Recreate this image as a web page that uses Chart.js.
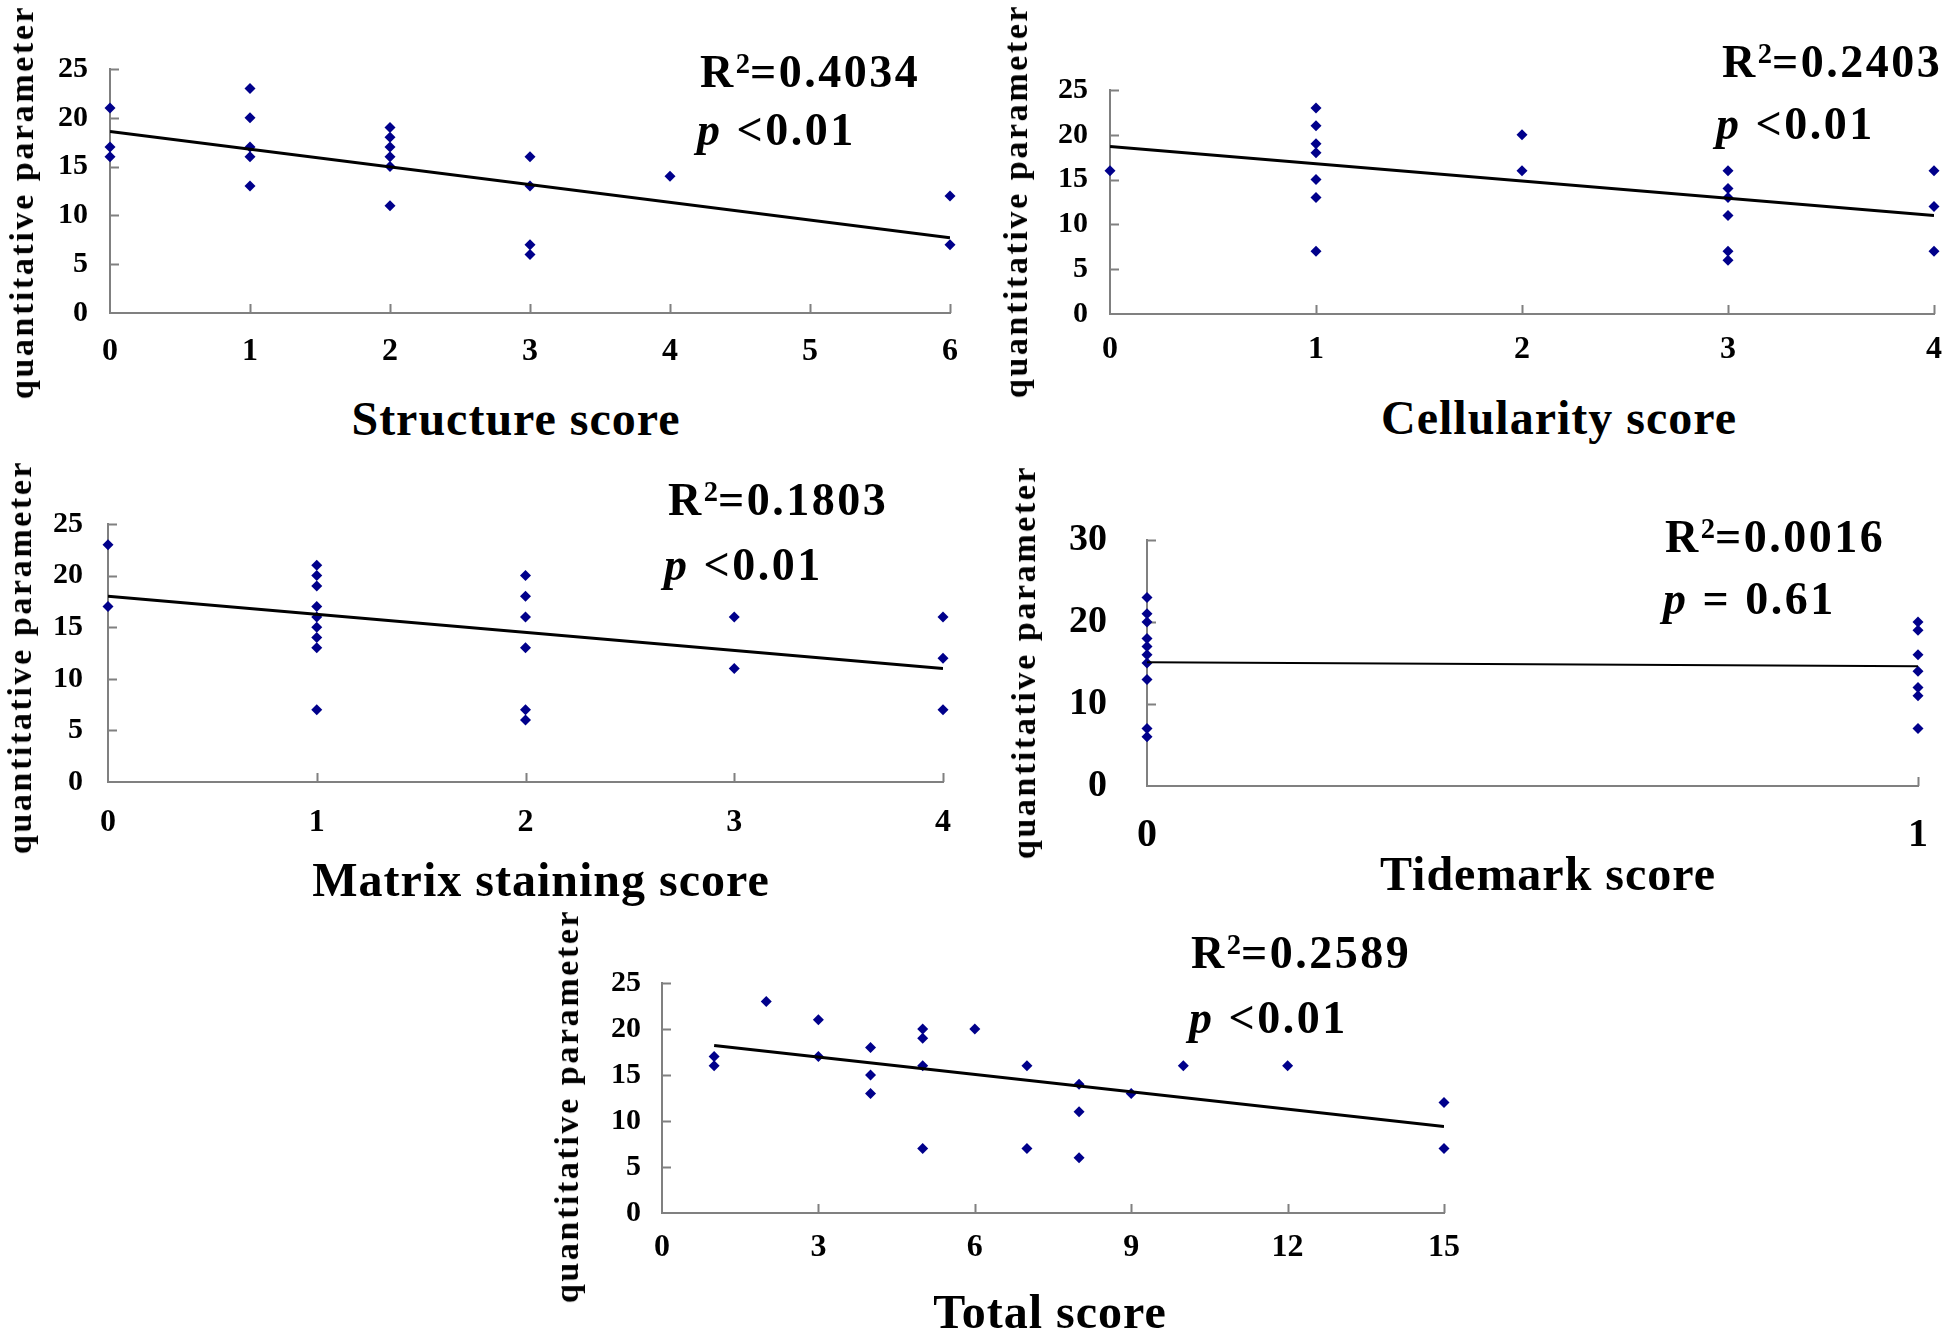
<!DOCTYPE html>
<html>
<head>
<meta charset="utf-8">
<script src="https://cdn.jsdelivr.net/npm/chart.js@4/dist/chart.umd.min.js"></script>
<style>
  body { margin: 0; width: 1946px; height: 1333px; overflow: hidden; background: #fff; position: relative; }
  canvas { position: absolute; }
  .txt { position: absolute; font-family: 'Liberation Serif', 'Times New Roman', serif; font-weight: bold; color: #000; white-space: nowrap; line-height: 1; }
  .stat { font-size: 46px; letter-spacing: 2.5px; }
  .stat sup { font-size: 0.62em; vertical-align: 0.48em; line-height: 0; letter-spacing: 0; }
  .xt { font-size: 48px; letter-spacing: 1px; transform: translateX(-50%); }
  .yt { font-size: 34px; letter-spacing: 2.6px; transform: translate(-50%, -50%) rotate(-90deg); }
</style>
</head>
<body>
<script>
// Structure score
const structureX = [0, 0, 0, 1, 1, 1, 1, 1, 2, 2, 2, 2, 2, 2, 3, 3, 3, 3, 4, 6, 6];
const structureY = [21, 17, 16, 23, 20, 17, 16, 13, 19, 18, 17, 16, 15, 11, 16, 13, 7, 6, 14, 12, 7];
const structureFitX = [0, 6];
const structureFitY = [18.6, 7.7];

// Cellularity score
const cellularityX = [0, 1, 1, 1, 1, 1, 1, 1, 2, 2, 3, 3, 3, 3, 3, 3, 4, 4, 4];
const cellularityY = [16, 23, 21, 19, 18, 15, 13, 7, 20, 16, 16, 14, 13, 11, 7, 6, 16, 12, 7];
const cellularityFitX = [0, 4];
const cellularityFitY = [18.7, 11.0];

// Matrix staining score
const matrixX = [0, 0, 1, 1, 1, 1, 1, 1, 1, 1, 1, 2, 2, 2, 2, 2, 2, 3, 3, 4, 4, 4];
const matrixY = [23, 17, 21, 20, 19, 17, 16, 15, 14, 13, 7, 20, 18, 16, 13, 7, 6, 16, 11, 16, 12, 7];
const matrixFitX = [0, 4];
const matrixFitY = [18.0, 11.0];

// Tidemark score
const tidemarkX = [0, 0, 0, 0, 0, 0, 0, 0, 0, 0, 1, 1, 1, 1, 1, 1, 1];
const tidemarkY = [23, 21, 20, 18, 17, 16, 15, 13, 7, 6, 20, 19, 16, 14, 12, 11, 7];
const tidemarkFitX = [0, 1];
const tidemarkFitY = [15.1, 14.6];

// Total score
const totalX = [1, 1, 2, 3, 3, 4, 4, 4, 5, 5, 5, 5, 6, 7, 7, 8, 8, 8, 9, 10, 12, 15, 15];
const totalY = [17, 16, 23, 21, 17, 18, 15, 13, 20, 19, 16, 7, 20, 16, 7, 14, 11, 6, 13, 16, 16, 12, 7];
const totalFitX = [1, 15];
const totalFitY = [18.2, 9.4];

const yTitle = 'quantitative  parameter';
const FONT = "'Liberation Serif', 'Times New Roman', serif";
const AXIS_GREY = '#808080';
const MARKER = '#00008B';

// petits traits de graduation tournés vers l'intérieur
const innerTicks = {
    id: 'innerTicks',
    beforeDatasetsDraw(chart) {
        const { ctx, chartArea, scales: { x, y } } = chart;
        ctx.save();
        ctx.strokeStyle = AXIS_GREY;
        ctx.lineWidth = 2;
        ctx.beginPath();
        y.ticks.forEach(t => {
            if (t.value === y.min) return;
            const py = Math.round(y.getPixelForValue(t.value)) + 0.5;
            ctx.moveTo(chartArea.left, py);
            ctx.lineTo(chartArea.left + 9, py);
        });
        x.ticks.forEach(t => {
            if (t.value === x.min) return;
            const px = Math.round(x.getPixelForValue(t.value)) + 0.5;
            ctx.moveTo(px, chartArea.bottom);
            ctx.lineTo(px, chartArea.bottom - 9);
        });
        ctx.stroke();
        ctx.restore();
    }
};

function toPoints(xs, ys) {
    return xs.map((v, i) => ({ x: v, y: ys[i] }));
}

function addText(html, cls, left, top) {
    const d = document.createElement('div');
    d.className = 'txt ' + cls;
    d.style.left = left + 'px';
    d.style.top = top + 'px';
    d.innerHTML = html;
    document.body.appendChild(d);
}

function makePanel(p) {
    // marges larges : le padding des graduations s'ajoute au haut de l'axe y
    const YW = 110, PT = 80, PR = 50, XH = 75;
    const canvas = document.createElement('canvas');
    const w = p.r - p.l + YW + PR;
    const h = p.b - p.t + PT + XH;
    canvas.width = w;
    canvas.height = h;
    canvas.style.left = (p.l - YW) + 'px';
    canvas.style.top = (p.t - PT) + 'px';
    document.body.appendChild(canvas);

    new Chart(canvas.getContext('2d'), {
        type: 'scatter',
        data: {
            datasets: [
                {
                    type: 'line',
                    data: toPoints(p.fitX, p.fitY),
                    borderColor: '#000',
                    borderWidth: p.fitWidth || 3,
                    pointRadius: 0,
                    fill: false
                },
                {
                    data: toPoints(p.xs, p.ys),
                    pointStyle: 'rectRot',
                    pointRadius: 5.5,
                    backgroundColor: MARKER,
                    borderColor: MARKER,
                    borderWidth: 0,
                    clip: false
                }
            ]
        },
        options: {
            responsive: false,
            animation: false,
            devicePixelRatio: 1,
            layout: { padding: { top: PT, right: PR, left: 0, bottom: 0 } },
            plugins: { legend: { display: false }, tooltip: { enabled: false } },
            scales: {
                x: {
                    type: 'linear',
                    min: 0,
                    max: p.xMax,
                    afterFit: s => { s.height = XH; },
                    border: { color: AXIS_GREY, width: 2 },
                    grid: { drawOnChartArea: false, drawTicks: false },
                    ticks: {
                        stepSize: p.xStep,
                        autoSkip: false,
                        maxRotation: 0,
                        padding: p.xPad,
                        color: '#000',
                        font: { family: FONT, weight: 'bold', size: p.tickSize + 2 }
                    }
                },
                y: {
                    min: 0,
                    max: p.yMax,
                    afterFit: s => { s.width = YW; },
                    border: { color: AXIS_GREY, width: 2 },
                    grid: { drawOnChartArea: false, drawTicks: false },
                    ticks: {
                        stepSize: p.yStep,
                        padding: p.yPad,
                        color: '#000',
                        font: { family: FONT, weight: 'bold', size: p.tickSize }
                    }
                }
            }
        },
        plugins: [innerTicks]
    });

    addText('R<sup>2</sup>=' + p.r2, 'stat', p.statX, p.statY);
    addText('<i>p</i> ' + p.pText, 'stat', p.pX, p.statY + p.statGap);
    addText(p.xTitle, 'xt', p.xTitleX, p.xTitleY - 24);
    addText(yTitle, 'yt', p.yTitleX, p.yTitleY);
}

makePanel({
    xs: structureX, ys: structureY, fitX: structureFitX, fitY: structureFitY,
    l: 110, t: 69, r: 950, b: 313, xMax: 6, xStep: 1, yMax: 25, yStep: 5,
    tickSize: 30, xPad: 20, yPad: 22,
    r2: '0.4034', pText: '&lt;0.01', statX: 700, statY: 49, pX: 697, statGap: 58,
    xTitle: 'Structure score', xTitleX: 516, xTitleY: 419, yTitleX: 22, yTitleY: 202
});

makePanel({
    xs: cellularityX, ys: cellularityY, fitX: cellularityFitX, fitY: cellularityFitY,
    l: 1110, t: 90, r: 1934, b: 314, xMax: 4, xStep: 1, yMax: 25, yStep: 5,
    tickSize: 30, xPad: 17, yPad: 22,
    r2: '0.2403', pText: '&lt;0.01', statX: 1722, statY: 39, pX: 1716, statGap: 62,
    xTitle: 'Cellularity score', xTitleX: 1559, xTitleY: 418, yTitleX: 1016, yTitleY: 201
});

makePanel({
    xs: matrixX, ys: matrixY, fitX: matrixFitX, fitY: matrixFitY,
    l: 108, t: 524, r: 943, b: 782, xMax: 4, xStep: 1, yMax: 25, yStep: 5,
    tickSize: 30, xPad: 22, yPad: 25,
    r2: '0.1803', pText: '&lt;0.01', statX: 668, statY: 477, pX: 664, statGap: 65,
    xTitle: 'Matrix staining score', xTitleX: 541, xTitleY: 880, yTitleX: 20, yTitleY: 657
});

makePanel({
    xs: tidemarkX, ys: tidemarkY, fitX: tidemarkFitX, fitY: tidemarkFitY,
    l: 1147, t: 540, r: 1918, b: 786, xMax: 1, xStep: 1, yMax: 30, yStep: 10,
    tickSize: 38, xPad: 26, yPad: 40, fitWidth: 2,
    r2: '0.0016', pText: '= 0.61', statX: 1665, statY: 514, pX: 1663, statGap: 62,
    xTitle: 'Tidemark score', xTitleX: 1548, xTitleY: 874, yTitleX: 1024, yTitleY: 662
});

makePanel({
    xs: totalX, ys: totalY, fitX: totalFitX, fitY: totalFitY,
    l: 662, t: 983, r: 1444, b: 1213, xMax: 15, xStep: 3, yMax: 25, yStep: 5,
    tickSize: 30, xPad: 16, yPad: 21,
    r2: '0.2589', pText: '&lt;0.01', statX: 1191, statY: 930, pX: 1189, statGap: 65,
    xTitle: 'Total score', xTitleX: 1050, xTitleY: 1312, yTitleX: 567, yTitleY: 1106
});
</script>
</body>
</html>
